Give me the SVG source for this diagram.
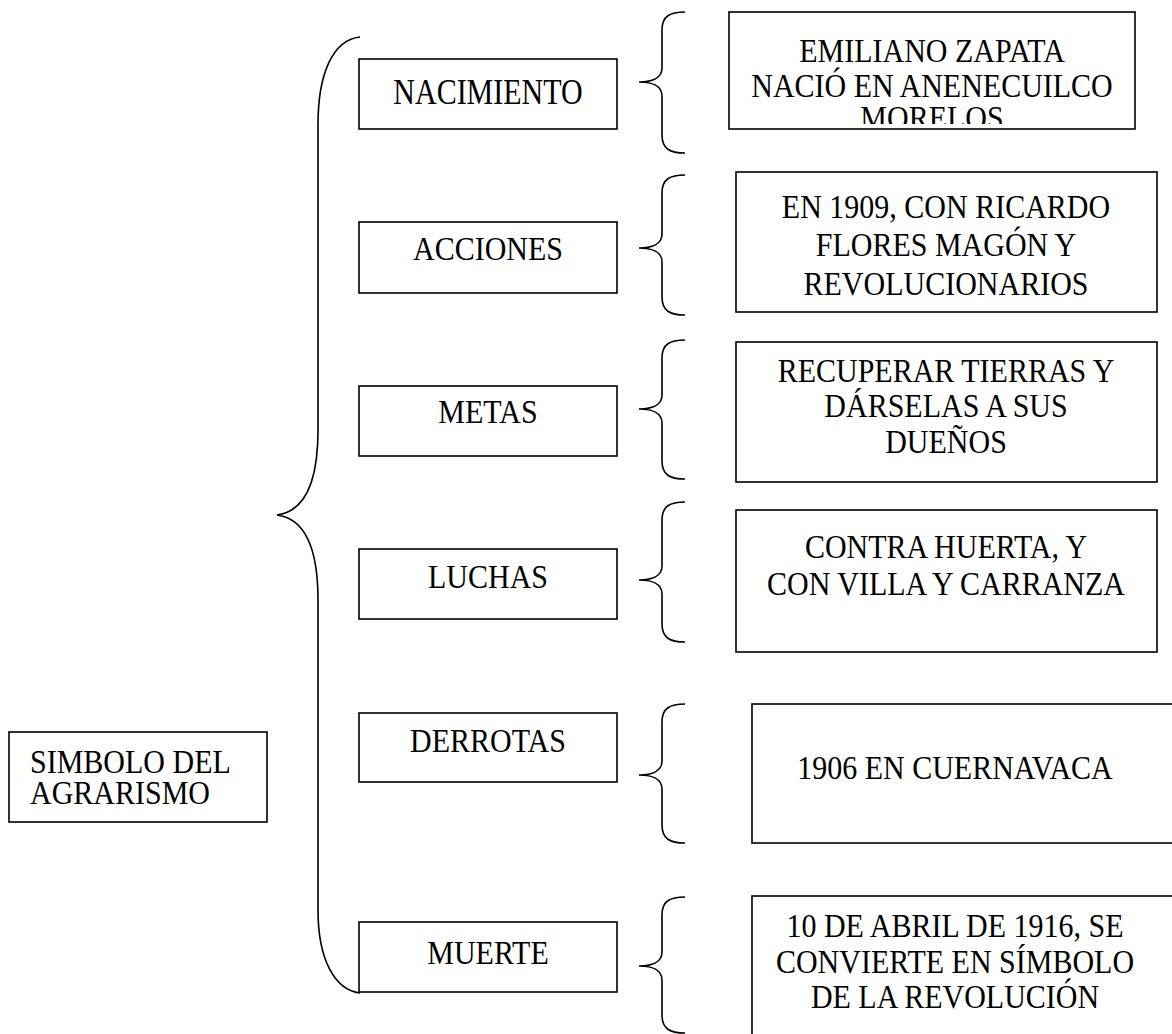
<svg xmlns="http://www.w3.org/2000/svg" width="1172" height="1034" viewBox="0 0 1172 1034">
<style>
.box{fill:#fff;stroke:#000;stroke-width:1.6}
.br{fill:none;stroke:#000;stroke-width:1.6}
.t{font-family:"Liberation Serif","Times New Roman",serif;font-size:30px;fill:#000}
.c{text-anchor:middle}
</style>
<defs>
<clipPath id="clip1"><rect x="730" y="13" width="404" height="111"/></clipPath>
</defs>
<rect width="1172" height="1034" fill="#fff"/>
<g id="connectors">
<path class="br" d="M360,37 C332,40 318,75 318,125 L318,430 C318,490 300,512 277,515 C300,518 318,540 318,600 L318,910 C318,960 335,990 360,993"/>
<path class="br" d="M685,12 C670,12 662,16 662,30 L662,68 C662,78 652,82 639,82 C652,82 662,86 662,96 L662,135 C662,149 670,153 685,153"/>
<path class="br" d="M685,175 C670,175 662,179 662,193 L662,234 C662,244 652,248 639,248 C652,248 662,252 662,262 L662,297 C662,311 670,315 685,315"/>
<path class="br" d="M685,340 C670,340 662,344 662,358 L662,395 C662,405 652,409 639,409 C652,409 662,413 662,423 L662,461 C662,475 670,479 685,479"/>
<path class="br" d="M685,502 C670,502 662,506 662,520 L662,566 C662,576 652,580 639,580 C652,580 662,584 662,594 L662,624 C662,638 670,642 685,642"/>
<path class="br" d="M685,704 C670,704 662,708 662,722 L662,761 C662,771 652,775 639,775 C652,775 662,779 662,789 L662,825 C662,839 670,843 685,843"/>
<path class="br" d="M685,897 C670,897 662,901 662,915 L662,952 C662,962 652,966 639,966 C652,966 662,970 662,980 L662,1015 C662,1029 670,1033 685,1033"/>
</g>
<g id="n-simbolo">
<rect class="box" x="9" y="732" width="258" height="90"/>
<text class="t" transform="translate(30,773) scale(1,1.12)">SIMBOLO DEL</text>
<text class="t" transform="translate(30,804) scale(1,1.12)">AGRARISMO</text>
</g>
<g id="n-nacimiento">
<rect class="box" x="359" y="59" width="258" height="70"/>
<text class="t c" transform="translate(488,104) scale(1,1.2)">NACIMIENTO</text>
</g>
<g id="n-acciones">
<rect class="box" x="359" y="222" width="258" height="71"/>
<text class="t c" transform="translate(488,260) scale(1,1.12)">ACCIONES</text>
</g>
<g id="n-metas">
<rect class="box" x="359" y="386" width="258" height="70"/>
<text class="t c" transform="translate(488,423) scale(1,1.12)">METAS</text>
</g>
<g id="n-luchas">
<rect class="box" x="359" y="549" width="258" height="70"/>
<text class="t c" transform="translate(488,588) scale(1,1.12)">LUCHAS</text>
</g>
<g id="n-derrotas">
<rect class="box" x="359" y="713" width="258" height="69"/>
<text class="t c" transform="translate(488,752) scale(1,1.12)">DERROTAS</text>
</g>
<g id="n-muerte">
<rect class="box" x="359" y="922" width="258" height="70"/>
<text class="t c" transform="translate(488,964) scale(1,1.12)">MUERTE</text>
</g>
<g id="d-nacimiento">
<rect class="box" x="729" y="12" width="406" height="117"/>
<g clip-path="url(#clip1)">
<text class="t c" transform="translate(932,62) scale(1,1.12)">EMILIANO ZAPATA</text>
<text class="t c" transform="translate(932,97) scale(1,1.12)">NACIÓ EN ANENECUILCO</text>
<text class="t c" transform="translate(932,129) scale(1,1.12)">MORELOS</text>
</g>
</g>
<g id="d-acciones">
<rect class="box" x="736" y="172" width="421" height="140"/>
<text class="t c" transform="translate(946,218) scale(1,1.12)">EN 1909, CON RICARDO</text>
<text class="t c" transform="translate(946,256) scale(1,1.12)">FLORES MAGÓN Y</text>
<text class="t c" transform="translate(946,295) scale(1,1.12)">REVOLUCIONARIOS</text>
</g>
<g id="d-metas">
<rect class="box" x="736" y="342" width="421" height="140"/>
<text class="t c" transform="translate(946,382) scale(1,1.12)">RECUPERAR TIERRAS Y</text>
<text class="t c" transform="translate(946,417) scale(1,1.12)">DÁRSELAS A SUS</text>
<text class="t c" transform="translate(946,453) scale(1,1.12)">DUEÑOS</text>
</g>
<g id="d-luchas">
<rect class="box" x="736" y="510" width="421" height="142"/>
<text class="t c" transform="translate(946,558) scale(1,1.12)">CONTRA HUERTA, Y</text>
<text class="t c" transform="translate(946,595) scale(1,1.12)">CON VILLA Y CARRANZA</text>
</g>
<g id="d-derrotas">
<rect class="box" x="752" y="704" width="430" height="139"/>
<text class="t c" transform="translate(955,779) scale(1,1.12)">1906 EN CUERNAVACA</text>
</g>
<g id="d-muerte">
<rect class="box" x="752" y="896" width="430" height="150"/>
<text class="t c" transform="translate(955,937) scale(1,1.12)">10 DE ABRIL DE 1916, SE</text>
<text class="t c" transform="translate(955,973) scale(1,1.12)">CONVIERTE EN SÍMBOLO</text>
<text class="t c" transform="translate(955,1008) scale(1,1.12)">DE LA REVOLUCIÓN</text>
</g>
</svg>
